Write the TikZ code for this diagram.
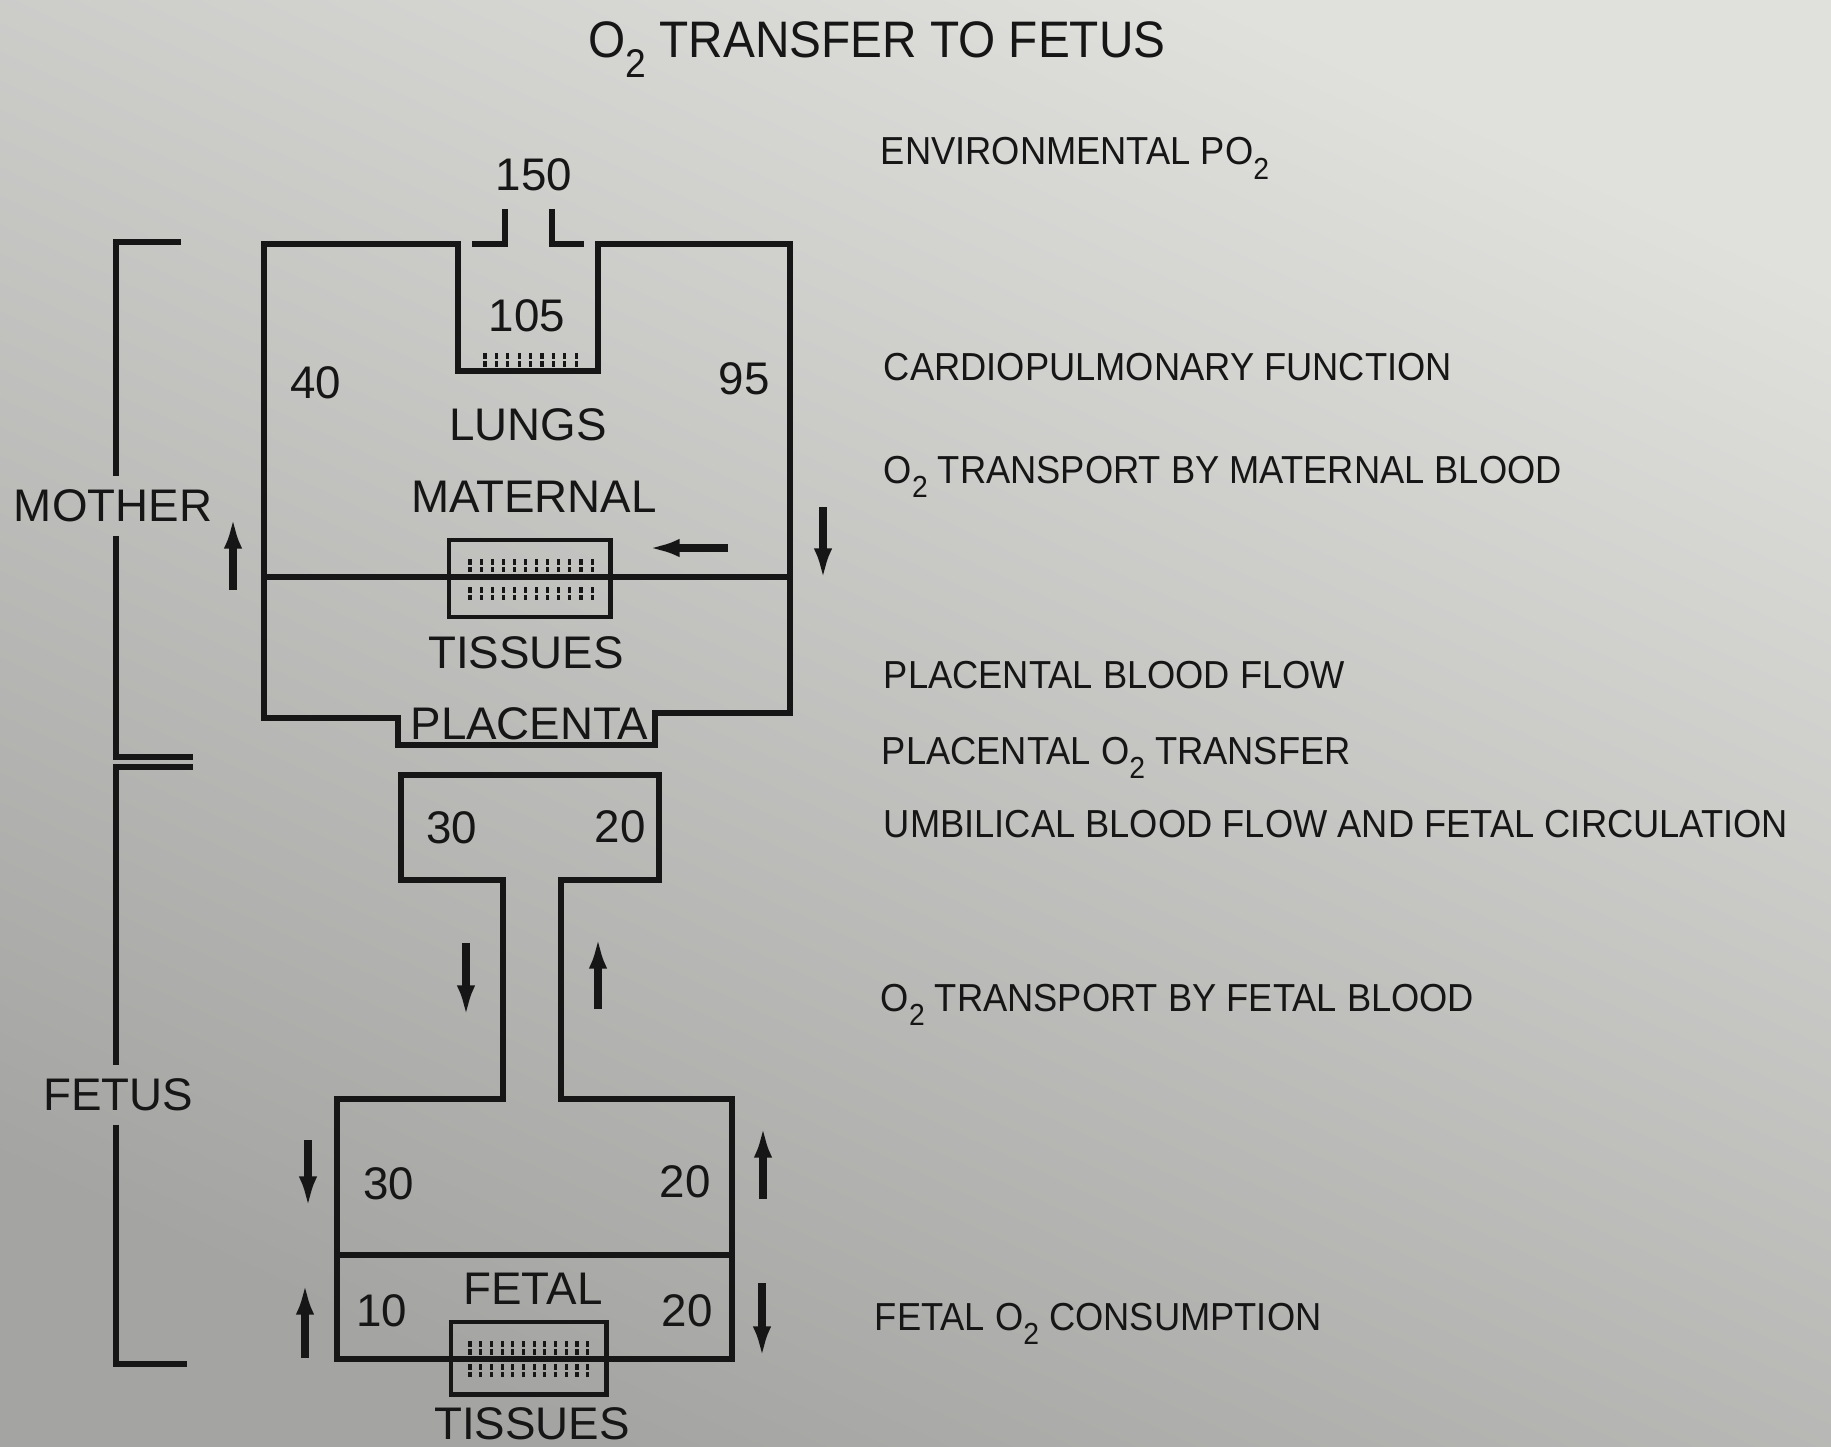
\documentclass[tikz,border=0pt]{standalone}
\usepackage{fontspec}
\setmainfont{Liberation Sans}
\newfontfamily\narrowfont{Liberation Sans}[FakeStretch=0.93]
\usetikzlibrary{arrows.meta}
\definecolor{paperlight}{HTML}{E0E1DD}
\definecolor{paperdark}{HTML}{A4A5A2}
\definecolor{ink}{HTML}{161616}
\newcommand{\subtwo}{\raisebox{-0.38em}{\scalebox{0.78}{2}}}

\begin{document}
\begin{tikzpicture}[x=0.01cm, y=-0.01cm, line width=1.6pt, color=ink,
    lbl/.style={font=\fontsize{13}{15}\selectfont, anchor=base, inner sep=0pt},
    side/.style={font=\fontsize{13}{15}\selectfont, inner sep=3pt},
    note/.style={font=\narrowfont\fontsize{11.1}{13}\selectfont, anchor=base west, inner sep=0pt},
    flow/.style={line width=2.4pt, -{Latex[length=9pt, width=5.2pt]}},
    tissue/.style={draw, rectangle, inner sep=0pt, line width=1.4pt},
    hatch/.style={line width=0.9pt, dash pattern=on 1.6pt off 0.7pt}]
        \useasboundingbox (0,0) rectangle (1831,1446);
        \shade[top color=paperlight, bottom color=paperdark, shading angle=-25] (0,0) rectangle (1831,1446);

        % Title
        \node (title) [font=\narrowfont\fontsize{14.6}{17}\selectfont, anchor=base, inner sep=0pt] at (877,58) {O\subtwo\ TRANSFER TO FETUS};

        % Mother: lungs and placenta
        \draw (458,244) -- (264,244) -- (264,718) -- (398,718) -- (398,745) -- (655,745)
              -- (655,713) -- (790,713) -- (790,244) -- (598,244) -- (598,371) -- (458,371) -- cycle;
        \draw (472,244) -- (505,244) -- (505,209);
        \draw (552,209) -- (552,244) -- (584,244);
        \draw (264,577) -- (790,577);
        \node (mtissue) [tissue, minimum width=1.61cm, minimum height=0.77cm] at (529.5,578.5) {};

        \node (air) [lbl] at (534,191) {150};
        \node (alv) [lbl] at (527,332) {105};
        \node (venm) [lbl] at (316,399) {40};
        \node (artm) [lbl] at (744,395) {95};
        \node (lungs) [lbl] at (528,440) {LUNGS};
        \node (maternal) [lbl] at (534,512) {MATERNAL};
        \node (tissues) [lbl] at (526,668) {TISSUES};
        \node (placenta) [lbl] at (529.5,739) {PLACENTA};

        \foreach \i in {0,...,8}
            \draw[hatch] (485+\i*11.4,353) -- ++(0,14);
        \foreach \i in {0,...,11} {
            \draw[hatch] (470+\i*11.1,559) -- ++(0,13);
            \draw[hatch] (470+\i*11.1,587) -- ++(0,13);
        }

        % Fetus: umbilical and fetal circulation
        \draw (401,775) -- (659,775) -- (659,880) -- (561,880) -- (561,1099) -- (732,1099)
              -- (732,1359) -- (337,1359) -- (337,1099) -- (503,1099) -- (503,880) -- (401,880) -- cycle;
        \draw (337,1255) -- (732,1255);
        \node (ftissue) [tissue, minimum width=1.55cm, minimum height=0.72cm] at (528.5,1358) {};

        \node (umbv) [lbl] at (452,843) {30};
        \node (umba) [lbl] at (620,842) {20};
        \node (fv) [lbl] at (389,1199) {30};
        \node (fa) [lbl] at (685,1197) {20};
        \node (fetal) [lbl] at (533,1304) {FETAL};
        \node (fven) [lbl] at (382,1326) {10};
        \node (fart) [lbl] at (687,1326) {20};
        \node (ftis) [lbl] at (532,1439) {TISSUES};

        \foreach \i in {0,...,11} {
            \draw[hatch] (470+\i*10.7,1341) -- ++(0,14);
            \draw[hatch] (470+\i*10.7,1364) -- ++(0,13);
        }

        % Flow arrows
        \draw[flow] (233,590) -- (233,517);
        \draw[flow] (823,507) -- (823,580);
        \draw[flow] (728,548) -- (648,548);
        \draw[flow] (466,943) -- (466,1017);
        \draw[flow] (598,1009) -- (598,937);
        \draw[flow] (308,1140) -- (308,1208);
        \draw[flow] (763,1199) -- (763,1126);
        \draw[flow] (305,1358) -- (305,1283);
        \draw[flow] (762,1283) -- (762,1358);

        % Mother / fetus bracket
        \node (mother) [side] at (113,506) {MOTHER};
        \node (fetus) [side] at (118,1095) {FETUS};
        \draw (181,242) -- (116,242) -- (mother.north -| 116,0);
        \draw (mother.south -| 116,0) -- (116,757) -- (193,757);
        \draw (193,767) -- (116,767) -- (fetus.north -| 116,0);
        \draw (fetus.south -| 116,0) -- (116,1364) -- (187,1364);

        % Factors
        \node (env) [note] at (878,165) {ENVIRONMENTAL PO\subtwo};
        \node (cardio) [note] at (881,380) {CARDIOPULMONARY FUNCTION};
        \node (mblood) [note] at (881,483) {O\subtwo\ TRANSPORT BY MATERNAL BLOOD};
        \node (pflow) [note] at (881,688) {PLACENTAL BLOOD FLOW};
        \node (ptrans) [note] at (879,764) {PLACENTAL O\subtwo\ TRANSFER};
        \node (umbil) [note] at (881,837) {UMBILICAL BLOOD FLOW AND FETAL CIRCULATION};
        \node (fblood) [note] at (878,1011) {O\subtwo\ TRANSPORT BY FETAL BLOOD};
        \node (fcons) [note] at (872,1330) {FETAL O\subtwo\ CONSUMPTION};
\end{tikzpicture}
\end{document}
